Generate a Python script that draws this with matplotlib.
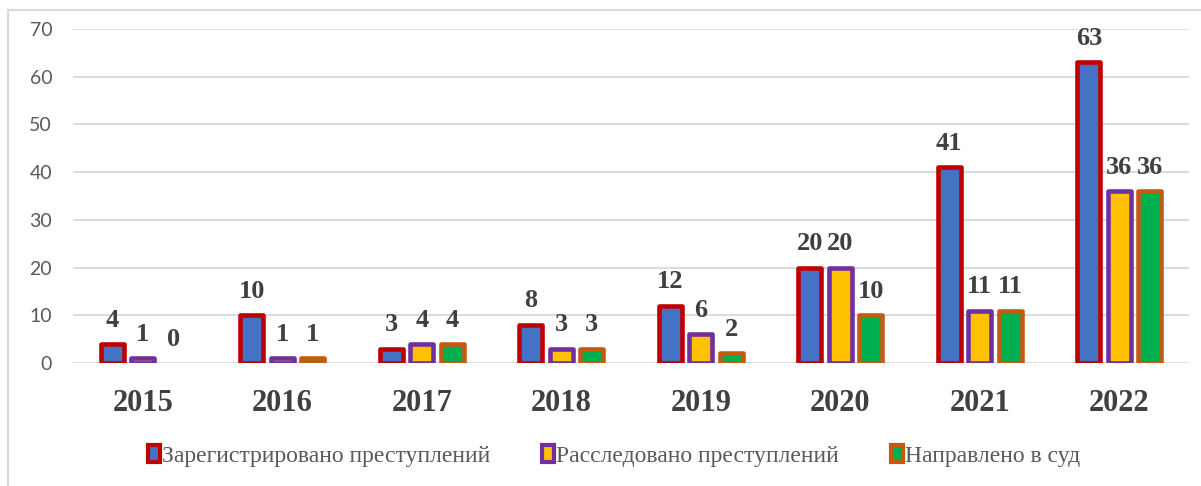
import numpy as np
import matplotlib
matplotlib.use("Agg")
import matplotlib.pyplot as plt
from matplotlib.patches import Patch, Rectangle

years = ["2015", "2016", "2017", "2018", "2019", "2020", "2021", "2022"]
registered = [4, 10, 3, 8, 12, 20, 41, 63]
investigated = [1, 1, 4, 3, 6, 20, 11, 36]
to_court = [0, 1, 4, 3, 2, 10, 11, 36]

series = [
    ("Зарегистрировано преступлений", registered, "#4472c4", "#c00000"),
    ("Расследовано преступлений", investigated, "#ffc000", "#7030a0"),
    ("Направлено в суд", to_court, "#00b050", "#c55a11"),
]

W, H = 1201, 486
fig = plt.figure(figsize=(W / 100, H / 100), dpi=100)
ax = fig.add_axes([73 / W, 1 - 363 / H, (1189 - 73) / W, (363 - 29) / H])

# рамка диаграммы
fig.patches.append(Rectangle((8 / W, -0.1), 1.2, 1 - 10 / H + 0.1, transform=fig.transFigure,
                             fill=False, edgecolor="#d9d9d9", lw=1.5))

x = np.arange(len(years))
step = 0.2185
width = 0.168
handles = []
for i, (name, vals, face, edge) in enumerate(series):
    pos = x + (i - 1) * step
    lws = [3.3 if v > 0 else 0 for v in vals]
    bars = ax.bar(pos, vals, width, color=face, edgecolor=edge, linewidth=lws, zorder=3)
    for b in bars:
        b.set_joinstyle("round")
    for p, v in zip(pos, vals):
        ax.text(p, v + 2.6, str(v), ha="center", va="bottom", fontsize=19,
                fontweight="bold", family="Liberation Serif", color="#404040", zorder=4)
    handles.append(Patch(facecolor=face, edgecolor=edge, linewidth=3, label=name))

ax.set_xlim(-0.5, len(years) - 0.5)
ax.set_ylim(0, 70)
ax.set_yticks(range(0, 71, 10))
ax.yaxis.grid(True, color="#d9d9d9", lw=1.3, zorder=0)
ax.set_axisbelow(True)
for s in ax.spines.values():
    s.set_visible(False)
ax.tick_params(length=0)
ax.tick_params(axis="y", pad=15, labelsize=14, labelcolor="#595959")
for lbl in ax.get_yticklabels():
    lbl.set_family("Lato")
ax.set_xticks(x)
ax.set_xticklabels(years, fontsize=22, fontweight="bold", family="Liberation Serif", color="#404040")
ax.tick_params(axis="x", pad=19)

fig.legend(handles=handles, loc="center", bbox_to_anchor=(614 / W, 1 - 456 / H), ncol=3,
           frameon=False, handlelength=0.5, handleheight=0.75, handletextpad=0.1,
           columnspacing=2.2, prop={"family": "Liberation Serif", "size": 17},
           labelcolor="#595959")

fig.savefig("out.png", dpi=100)
